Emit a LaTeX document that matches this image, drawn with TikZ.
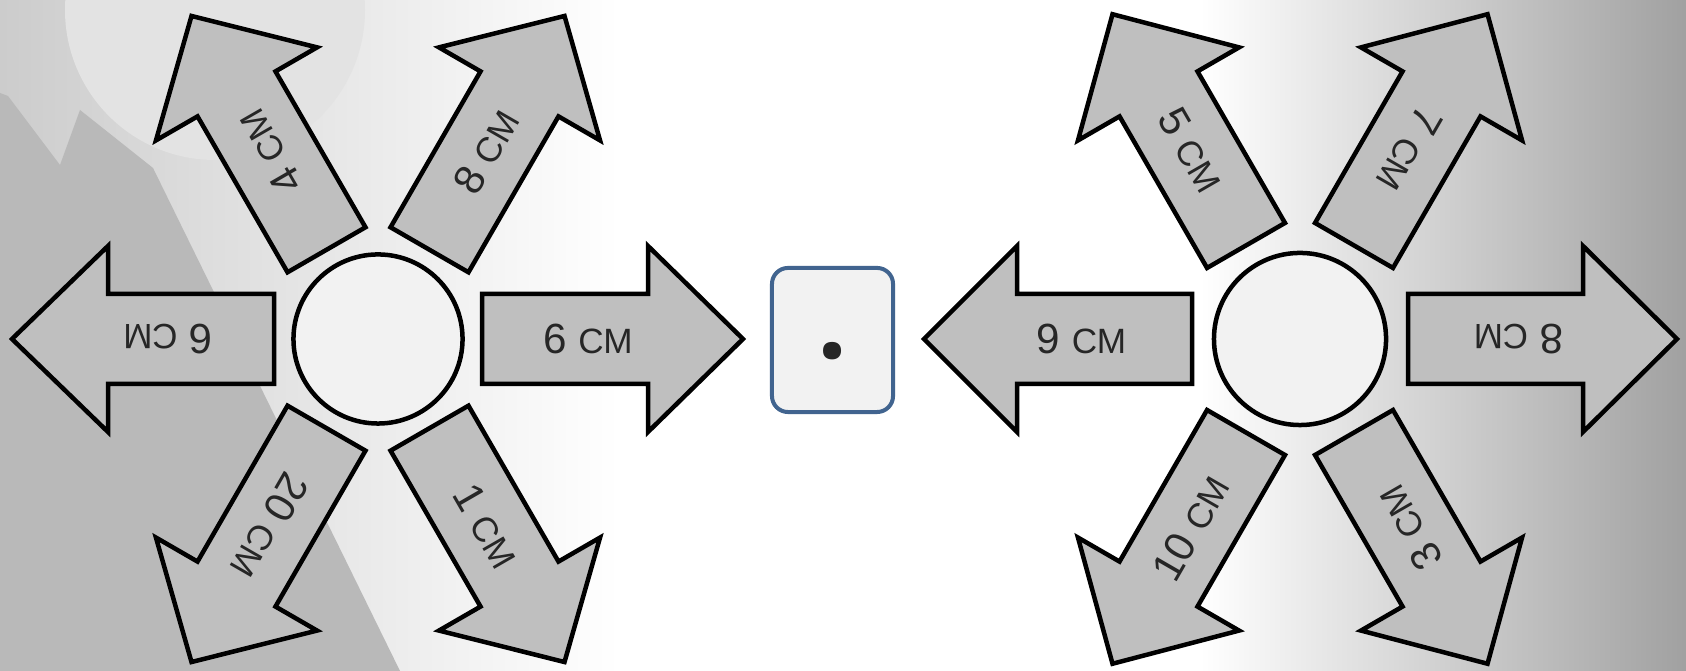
\documentclass[tikz,border=0pt]{standalone}
\usepackage{fontspec}
\setmainfont{Liberation Sans}
\newfontfamily\dotfont{Open Sans}
\definecolor{arrowfill}{HTML}{BFBFBF}
\definecolor{circfill}{HTML}{F2F2F2}
\definecolor{boxblue}{HTML}{41648F}
\definecolor{txt}{HTML}{262626}
\definecolor{bgdark}{HTML}{B9B9B9}
\definecolor{bgdisk}{HTML}{E3E3E3}
\newcommand{\SmCp}[1]{{\fontsize{10pt}{11pt}\selectfont #1}}
\newcommand{\Arw}[8]{% #1 center, #2 angle, #3 start, #4 base, #5 tip, #6 text rot, #7 name, #8 number
  \begin{scope}[shift={#1}, rotate=#2]
    \draw[arrowbody] (#3,-45) -- (#4,-45) -- (#4,-93) -- (#5,0) -- (#4,93) -- (#4,45) -- (#3,45) -- cycle;
    \node[lbl, rotate=#6] (#7) at ({(#3+#4)/2+23},0) {#8 \SmCp{СМ}};
  \end{scope}}
\begin{document}
\begin{tikzpicture}[x=0.01cm,y=0.01cm,
  arrowbody/.style={draw=black, fill=arrowfill, line width=0.045cm, line join=miter},
  lbl/.style={text=txt, font=\fontsize{12pt}{13pt}\selectfont, inner sep=0pt},
  hub/.style={circle, draw=black, fill=circfill, line width=0.045cm, inner sep=0pt},
  dotbox/.style={draw=boxblue, fill=circfill, line width=0.04cm, rounded corners=0.16cm,
    minimum width=1.21cm, minimum height=1.44cm, inner sep=0pt}]
\useasboundingbox (0,0) rectangle (1686,671);
% background
\fill[white] (0,0) rectangle (1686,671);
\shade[left color=white, middle color=white!90!black, right color=white!63!black] (1200,0) rectangle (1686,671);
\shade[left color=white!80!black, right color=white] (0,0) rectangle (620,671);
\fill[bgdisk] (215,661) circle (150);
\fill[bgdark] (0,578) -- (8,575) -- (60,506) -- (80,561) -- (153,503) -- (400,0) -- (0,0) -- cycle;
% hubs
\coordinate (L) at (378,332);
\coordinate (R) at (1300,332);
\node[hub, minimum size=1.69cm] (hubL) at (L) {};
\node[hub, minimum size=1.72cm] (hubR) at (R) {};
% left group
\Arw{(L)}{0}{104}{270}{365}{0}{l0}{6}
\Arw{(L)}{60}{103}{283}{373}{60}{l60}{8}
\Arw{(L)}{120}{103}{283}{373}{120}{l120}{4}
\Arw{(L)}{180}{104}{270}{366}{180}{l180}{6}
\Arw{(L)}{240}{103}{283}{373}{240}{l240}{20}
\Arw{(L)}{300}{103}{283}{373}{300}{l300}{1}
% right group
\Arw{(R)}{0}{108}{283}{377}{180}{r0}{8}
\Arw{(R)}{60}{108}{283}{375}{240}{r60}{7}
\Arw{(R)}{120}{108}{283}{375}{300}{r120}{5}
\Arw{(R)}{180}{108}{283}{376}{0}{r180}{9}
\Arw{(R)}{240}{108}{283}{375}{60}{r240}{10}
\Arw{(R)}{300}{108}{283}{375}{120}{r300}{3}
% middle box
\node[dotbox] (box) at (832.5,331) {};
\node[anchor=base, inner sep=0pt, text=txt, font=\dotfont\bfseries\fontsize{30pt}{30pt}\selectfont] (dot) at (832.5,312) {.};
\end{tikzpicture}
\end{document}
